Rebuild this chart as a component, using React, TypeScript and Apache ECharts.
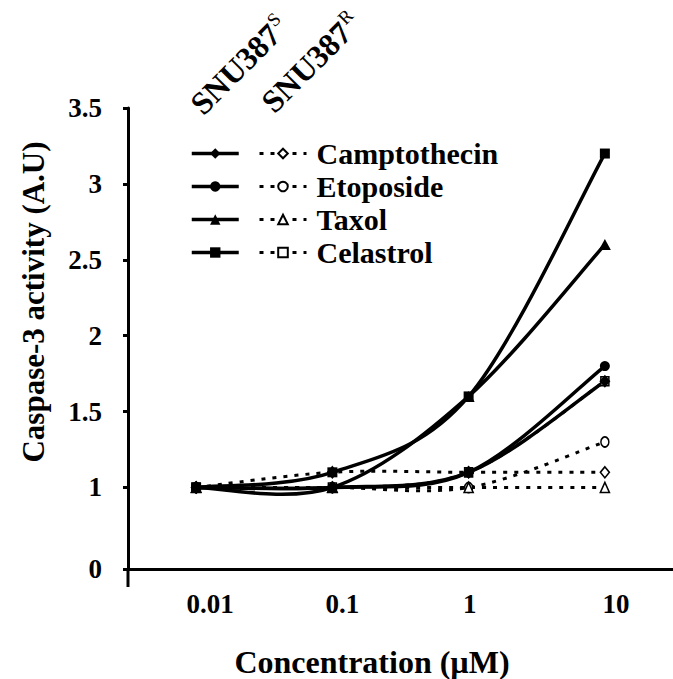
import React, { useEffect, useRef } from "react";
import * as echarts from "echarts";

const categories = ["0.01", "0.1", "1", "10"];
const drugs = ["Camptothecin", "Etoposide", "Taxol", "Celastrol"];

// SNU387S (solid lines, filled markers)
const camptothecinS = [1.0, 1.0, 1.1, 1.7];
const etoposideS = [1.0, 1.0, 1.1, 1.8];
const taxolS = [1.0, 1.0, 1.6, 2.6];
const celastrolS = [1.0, 1.1, 1.6, 3.2];

// SNU387R (dotted lines, open markers)
const camptothecinR = [1.0, 1.1, 1.1, 1.1];
const etoposideR = [1.0, 1.0, 1.0, 1.3];
const taxolR = [1.0, 1.0, 1.0, 1.0];
const celastrolR = [1.0, 1.0, 1.1, 1.7];

const yTickValues = [1, 1.5, 2, 2.5, 3, 3.5];
const yZeroPosition = 0.463; // broken axis: where "0" sits
const yMax = 3.5;

const FONT = "'Liberation Serif', 'Times New Roman', serif";

// Excel-like smoothed curve (Catmull-Rom, tension 1/6) through pixel points
function smoothPath(pts: number[][]) {
  let d = `M${pts[0][0]},${pts[0][1]}`;
  for (let i = 0; i < pts.length - 1; i++) {
    const p0 = pts[i - 1] || pts[i];
    const p1 = pts[i];
    const p2 = pts[i + 1];
    const p3 = pts[i + 2] || pts[i + 1];
    const c1x = p1[0] + (p2[0] - p0[0]) / 6;
    const c1y = p1[1] + (p2[1] - p0[1]) / 6;
    const c2x = p2[0] - (p3[0] - p1[0]) / 6;
    const c2y = p2[1] - (p3[1] - p1[1]) / 6;
    d += ` C${c1x},${c1y} ${c2x},${c2y} ${p2[0]},${p2[1]}`;
  }
  return d;
}

function rotatedLabel(x: number, y: number, main: string, sup: string) {
  const fs = 32;
  return {
    type: "group",
    x,
    y,
    rotation: Math.PI / 4,
    children: [
      {
        type: "text",
        x: 0,
        y: 0,
        style: {
          text: main,
          fontFamily: FONT,
          fontWeight: "bold",
          fontSize: fs,
          fill: "#000",
          align: "left",
          verticalAlign: "bottom",
        },
      },
      {
        type: "text",
        x: fs * 3.5 + 1,
        y: -fs * 0.45,
        style: {
          text: sup,
          fontFamily: FONT,
          fontSize: 19,
          fill: "#000",
          align: "left",
          verticalAlign: "bottom",
        },
      },
    ],
  };
}

export default function App() {
  const ref = useRef<HTMLDivElement>(null);

  useEffect(() => {
    if (!ref.current) return;
    const chart = echarts.init(ref.current, null, { renderer: "svg" });

    const sData = [camptothecinS, etoposideS, taxolS, celastrolS];
    const rData = [camptothecinR, etoposideR, taxolR, celastrolR];
    const symbols = ["diamond", "circle", "triangle", "rect"];
    const symbolSizes: any[] = [[11, 13], 10, [12, 11], 10];
    const openSizes: any[] = [[9, 11], [8, 10], [9, 10], [8, 9]];

    const sNames = drugs.map((d) => d + " (SNU387S)");
    const rNames = drugs.map((d) => d + " (SNU387R)");

    const solidLine = { color: "#000", width: 3.5, type: "solid", opacity: 1 };
    const dottedLine = { color: "#000", width: 3, type: [4, 7], cap: "butt", opacity: 1 };

    const curve = (values: number[], line: any, key: string) => ({
      type: "custom",
      id: key,
      silent: true,
      z: 2,
      data: values.map((v, i) => [i, v]),
      encode: { x: 0, y: 1 },
      renderItem: (params: any, api: any) => {
        if (params.dataIndex !== 0) return { type: "group", children: [] };
        const pts = values.map((v, i) => api.coord([i, v]));
        return {
          type: "path",
          shape: { pathData: smoothPath(pts) },
          style: {
            fill: "none",
            stroke: line.color,
            lineWidth: line.width,
            lineDash: line.type === "solid" ? null : line.type,
            lineCap: "butt",
          },
        };
      },
    });

    const markerSeries = (name: string, values: number[], i: number, filled: boolean) => ({
      name,
      type: "line",
      data: values,
      symbol: symbols[i],
      symbolSize: filled ? symbolSizes[i] : openSizes[i],
      showAllSymbol: true,
      lineStyle: { opacity: 0 },
      itemStyle: filled
        ? { color: "#000", borderColor: "#000", borderWidth: 0 }
        : { color: "#fff", borderColor: "#000", borderWidth: 1.6 },
      z: filled ? 4 : 3,
    });

    const series: any[] = [
      ...rData.map((v, i) => curve(v, dottedLine, "rc" + i)),
      ...sData.map((v, i) => curve(v, solidLine, "sc" + i)),
      ...rData.map((v, i) => markerSeries(rNames[i], v, i, false)),
      ...sData.map((v, i) => markerSeries(sNames[i], v, i, true)),
    ];

    const legendText = {
      fontFamily: FONT,
      fontWeight: "bold",
      fontSize: 30,
      color: "#000",
      lineHeight: 33,
    };

    const tickFont = { fontFamily: FONT, fontWeight: "bold", fontSize: 27, color: "#000" };
    // small horizontal offsets of the category labels relative to their ticks
    const labelPad = [28, 20, 2, 22];

    chart.setOption({
      animation: false,
      backgroundColor: "#fff",
      grid: {
        left: 128,
        right: 0,
        top: 108,
        bottom: 110,
        containLabel: false,
        outerBoundsMode: "none",
      },
      legend: [
        {
          left: 185,
          top: 132,
          orient: "vertical",
          itemWidth: 47,
          itemHeight: 13,
          itemGap: 0,
          selectedMode: false,
          data: sNames,
          formatter: () => " ",
          lineStyle: solidLine,
          textStyle: legendText,
        },
        {
          left: 253,
          top: 132,
          orient: "vertical",
          itemWidth: 47,
          itemHeight: 12,
          itemGap: 0,
          selectedMode: false,
          data: rNames,
          formatter: (name: string) => name.split(" ")[0],
          lineStyle: dottedLine,
          textStyle: { ...legendText, padding: [0, 0, 0, 5] },
        },
      ],
      xAxis: {
        type: "category",
        data: categories,
        boundaryGap: true,
        axisLine: { lineStyle: { color: "#000", width: 3 } },
        axisTick: {
          alignWithLabel: true,
          length: 6,
          lineStyle: { color: "#000", width: 3 },
        },
        axisLabel: {
          margin: 21,
          ...tickFont,
          formatter: (v: string, i: number) => `{p${i}|${v}}`,
          rich: {
            p0: { ...tickFont, padding: [0, 0, 0, labelPad[0]] },
            p1: { ...tickFont, padding: [0, 0, 0, labelPad[1]] },
            p2: { ...tickFont, padding: [0, 0, 0, labelPad[2]] },
            p3: { ...tickFont, padding: [0, 0, 0, labelPad[3]] },
          },
        },
        splitLine: { show: false },
      },
      yAxis: {
        type: "value",
        min: yZeroPosition,
        max: yMax,
        axisLine: { show: true, lineStyle: { color: "#000", width: 3 } },
        axisTick: {
          show: true,
          length: 5,
          customValues: [yZeroPosition, ...yTickValues],
          lineStyle: { color: "#000", width: 3 },
        },
        axisLabel: {
          customValues: [yZeroPosition, ...yTickValues],
          margin: 26,
          ...tickFont,
          formatter: (v: number) => (v < 0.9 ? "0" : String(v)),
        },
        splitLine: { show: false },
      },
      graphic: [
        {
          type: "line",
          shape: { x1: 128, y1: 569, x2: 128, y2: 587 },
          style: { stroke: "#000", lineWidth: 3 },
        },
        {
          type: "text",
          x: -3,
          y: 3,
          style: {
            text: "A",
            fontFamily: FONT,
            fontWeight: "bold",
            fontSize: 30,
            fill: "#000",
            verticalAlign: "bottom",
          },
        },
        {
          type: "text",
          x: 33,
          y: 302,
          rotation: Math.PI / 2,
          style: {
            text: "Caspase-3 activity (A.U)",
            fontFamily: FONT,
            fontWeight: "bold",
            fontSize: 31,
            fill: "#000",
            align: "center",
            verticalAlign: "middle",
          },
        },
        {
          type: "text",
          x: 372,
          y: 662,
          style: {
            text: "Concentration (\u00b5M)",
            fontFamily: FONT,
            fontWeight: "bold",
            fontSize: 32,
            fill: "#000",
            align: "center",
            verticalAlign: "middle",
          },
        },
        rotatedLabel(207, 120, "SNU387", "S"),
        rotatedLabel(278, 118, "SNU387", "R"),
      ],
      series,
    });

    return () => chart.dispose();
  }, []);

  return (
    <div
      ref={ref}
      style={{ position: "absolute", left: 0, top: 0, width: 673, height: 679 }}
    />
  );
}
